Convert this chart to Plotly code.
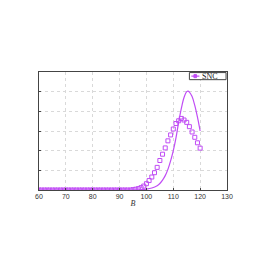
import plotly.graph_objects as go

# Solid curve (B vs value)
line_x = [60, 95, 98, 100, 102, 104, 105, 106, 107, 108, 109, 110, 111, 112,
          113, 114, 115, 115.5, 116, 117, 118, 119, 120]
line_y = [0, 0, 0.01, 0.04, 0.1, 0.22, 0.33, 0.5, 0.73, 1.05, 1.48, 2.0, 2.65,
          3.45, 4.15, 4.7, 5.0, 5.03, 4.98, 4.75, 4.3, 3.7, 3.0]

# Square markers (SNC)
snc_x = list(range(60, 121))
snc_y = [0] * 35 + [0.02, 0.04, 0.07, 0.12, 0.2, 0.32, 0.48, 0.66, 0.88, 1.15,
                    1.5, 1.82, 2.14, 2.5, 2.8, 3.1, 3.38, 3.52, 3.64, 3.56,
                    3.44, 3.22, 2.95, 2.68, 2.4, 2.13]

x_ticks = [60, 70, 80, 90, 100, 110, 120, 130]
legend_name = "SNC"

color = "#c04cf5"

fig = go.Figure()
fig.add_trace(go.Scatter(x=line_x, y=line_y, mode="lines",
                         line=dict(color=color, width=1.2, shape="spline"),
                         showlegend=False, hoverinfo="skip"))
fig.add_trace(go.Scatter(x=snc_x, y=snc_y, mode="markers", name=legend_name,
                         marker=dict(symbol="square-open", size=4, color=color,
                                     line=dict(width=1, color=color)),
                         showlegend=False))

# Manual compact legend (paper coordinates of plot area)
fig.add_shape(type="rect", xref="paper", yref="paper", x0=0.8, x1=0.995, y0=0.935, y1=0.995,
              line=dict(color="#444444", width=1), fillcolor="white", layer="above")
fig.add_shape(type="line", xref="paper", yref="paper", x0=0.81, x1=0.853, y0=0.965, y1=0.965,
              line=dict(color=color, width=1.2), layer="above")
fig.add_shape(type="rect", xref="paper", yref="paper", x0=0.824, x1=0.838, y0=0.952, y1=0.978,
              line=dict(color=color, width=1), fillcolor=color, layer="above")
fig.add_annotation(text=legend_name, xref="paper", yref="paper", x=0.858, y=0.965,
                   xanchor="left", yanchor="middle", showarrow=False,
                   font=dict(family="Liberation Serif, Times New Roman", size=8, color="#222222"))

fig.update_layout(
    width=250, height=259,
    margin=dict(l=31, r=31, t=64, b=77),
    paper_bgcolor="white", plot_bgcolor="white",
    showlegend=False,
    font=dict(family="Liberation Sans, Arial", size=7, color="#333333"),
    xaxis=dict(range=[60, 130], tickvals=x_ticks, ticktext=[str(v) for v in x_ticks],
               showgrid=True, gridcolor="#d9d9d9", griddash="dot", gridwidth=1,
               showline=True, linecolor="#444444", linewidth=1, mirror=True,
               ticks="inside", ticklen=2, tickcolor="#444444",
               zeroline=False, tickfont=dict(size=7, color="#333333"),
               title=dict(text="<i>B</i>", standoff=0,
                          font=dict(family="Liberation Serif, Times New Roman", size=8, color="#333333"))),
    yaxis=dict(range=[0, 6], dtick=1, showticklabels=False,
               showgrid=True, gridcolor="#d9d9d9", griddash="dot", gridwidth=1,
               showline=True, linecolor="#444444", linewidth=1, mirror=True,
               ticks="inside", ticklen=2, tickcolor="#444444", zeroline=False),
)

fig.write_html("out.html")
